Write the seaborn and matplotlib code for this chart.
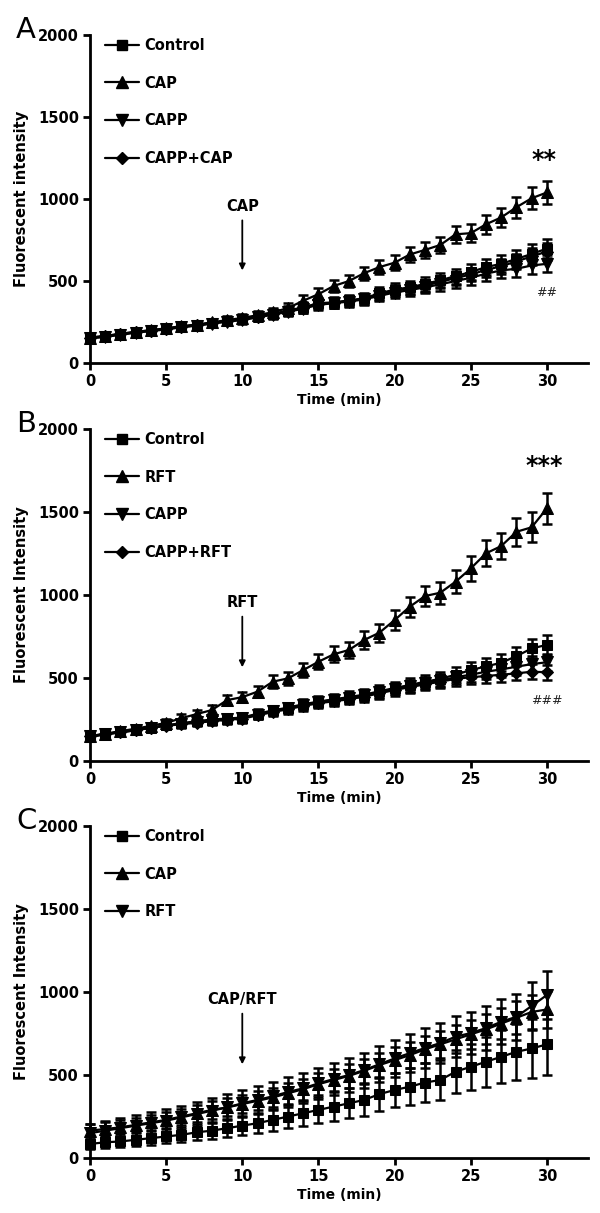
import numpy as np
import pandas as pd
import matplotlib
matplotlib.use("Agg")
import matplotlib.pyplot as plt
from matplotlib.lines import Line2D
import seaborn as sns

# ---- data (mean +/- SEM) ----
time_min = list(range(31))

# Panel A
a_control = [155, 165, 178, 190, 200, 210, 222, 232, 245, 258, 270, 285, 300, 320, 340, 365,
             370, 382, 395, 425, 448, 462, 482, 505, 530, 555, 585, 605, 635, 665, 698]
a_cap = [155, 165, 178, 190, 200, 212, 225, 235, 248, 262, 275, 292, 310, 335, 380, 420,
         470, 500, 548, 585, 612, 662, 690, 720, 785, 792, 846, 888, 950, 1005, 1040]
a_capp = [150, 160, 172, 185, 195, 205, 218, 228, 240, 252, 262, 278, 295, 312, 332, 355,
          365, 375, 388, 410, 430, 445, 462, 480, 500, 520, 545, 565, 575, 595, 605]
a_capp_cap = [152, 162, 175, 188, 198, 208, 220, 230, 243, 255, 268, 282, 298, 316, 336, 360,
              368, 378, 392, 418, 440, 455, 472, 495, 518, 540, 568, 590, 620, 650, 680]
a_control_sem = [18, 18, 19, 20, 20, 21, 22, 22, 23, 24, 25, 26, 27, 28, 30, 32,
                 32, 34, 35, 36, 38, 40, 40, 42, 45, 48, 50, 52, 55, 58, 60]
a_cap_sem = [18, 18, 19, 20, 20, 21, 22, 22, 23, 24, 25, 26, 28, 30, 32, 35,
             36, 38, 40, 42, 44, 46, 48, 50, 52, 55, 58, 60, 64, 68, 70]
a_capp_sem = [16, 16, 17, 18, 18, 19, 20, 20, 21, 22, 23, 24, 25, 26, 28, 30,
              30, 31, 32, 33, 34, 35, 36, 38, 40, 42, 44, 46, 48, 50, 52]
a_capp_cap_sem = [16, 16, 17, 18, 18, 19, 20, 20, 21, 22, 23, 24, 25, 26, 28, 30,
                  30, 31, 32, 33, 34, 35, 36, 38, 40, 42, 44, 46, 48, 50, 52]

# Panel B
b_control = [145, 160, 172, 185, 200, 215, 228, 240, 250, 256, 262, 285, 305, 322, 342, 358,
             372, 385, 400, 420, 440, 458, 478, 495, 520, 548, 570, 592, 632, 678, 700]
b_rft = [150, 165, 180, 195, 212, 230, 258, 283, 307, 367, 385, 418, 478, 498, 548, 598,
         643, 669, 729, 773, 849, 930, 994, 1014, 1080, 1160, 1251, 1295, 1381, 1408, 1522]
b_capp = [148, 162, 175, 188, 202, 215, 225, 235, 245, 252, 260, 280, 300, 318, 338, 355,
          368, 380, 395, 415, 435, 452, 470, 485, 505, 520, 538, 552, 568, 584, 595]
b_capp_rft = [150, 163, 174, 186, 200, 212, 222, 230, 240, 248, 255, 275, 295, 312, 332, 348,
              360, 372, 388, 408, 428, 445, 462, 478, 495, 505, 512, 520, 528, 538, 535]
b_control_sem = [18, 18, 19, 20, 20, 21, 22, 22, 23, 24, 25, 26, 27, 28, 30, 32,
                 32, 34, 35, 36, 38, 40, 40, 42, 45, 48, 50, 52, 55, 58, 60]
b_rft_sem = [18, 18, 19, 20, 20, 22, 24, 26, 28, 30, 32, 34, 38, 40, 42, 45,
             48, 50, 52, 55, 58, 60, 62, 65, 70, 75, 78, 80, 85, 90, 95]
b_capp_sem = [16, 16, 17, 18, 18, 19, 20, 20, 21, 22, 23, 24, 25, 26, 28, 30,
              30, 31, 32, 33, 34, 35, 36, 38, 40, 42, 44, 46, 48, 50, 52]
b_capp_rft_sem = [16, 16, 17, 18, 18, 19, 20, 20, 21, 22, 23, 24, 25, 26, 28, 30,
                  30, 31, 32, 33, 34, 35, 36, 38, 40, 40, 40, 42, 42, 44, 44]

# Panel C
c_control = [85, 95, 100, 110, 120, 130, 140, 155, 165, 180, 195, 210, 230, 250, 270, 290,
             310, 330, 350, 385, 410, 430, 455, 470, 520, 550, 580, 610, 640, 660, 685]
c_cap = [165, 175, 185, 200, 215, 230, 250, 270, 290, 305, 325, 345, 365, 390, 415, 445,
         470, 495, 525, 560, 590, 620, 655, 685, 715, 745, 775, 810, 845, 880, 895]
c_rft = [150, 165, 180, 195, 210, 225, 245, 265, 285, 305, 330, 350, 372, 398, 420, 450,
         476, 500, 530, 565, 600, 632, 663, 693, 731, 753, 783, 821, 851, 916, 982]
c_control_sem = [30, 32, 35, 38, 40, 42, 45, 48, 50, 55, 58, 62, 65, 70, 75, 80,
                 85, 90, 95, 100, 105, 110, 115, 120, 130, 140, 150, 160, 170, 178, 185]
c_cap_sem = [40, 40, 42, 44, 45, 46, 48, 50, 52, 54, 56, 58, 60, 62, 64, 66,
             68, 70, 72, 74, 76, 78, 80, 82, 85, 88, 90, 95, 100, 105, 110]
c_rft_sem = [55, 58, 60, 62, 65, 68, 70, 72, 75, 78, 80, 82, 85, 88, 90, 95,
             98, 100, 105, 108, 112, 115, 118, 122, 125, 128, 132, 135, 138, 142, 145]

y_ticks = [0, 500, 1000, 1500, 2000]
x_ticks = [0, 5, 10, 15, 20, 25, 30]

panels = [
    dict(letter="A", ylabel="Fluorescent intensity", treat="CAP",
         groups=["Control", "CAP", "CAPP", "CAPP+CAP"],
         means=[a_control, a_cap, a_capp, a_capp_cap],
         sems=[a_control_sem, a_cap_sem, a_capp_sem, a_capp_cap_sem],
         stars="**", hashes="##", star_y=1240, hash_y=430),
    dict(letter="B", ylabel="Fluorescent Intensity", treat="RFT",
         groups=["Control", "RFT", "CAPP", "CAPP+RFT"],
         means=[b_control, b_rft, b_capp, b_capp_rft],
         sems=[b_control_sem, b_rft_sem, b_capp_sem, b_capp_rft_sem],
         stars="***", hashes="###", star_y=1780, hash_y=365),
    dict(letter="C", ylabel="Fluorescent Intensity", treat="CAP/RFT",
         groups=["Control", "CAP", "RFT"],
         means=[c_control, c_cap, c_rft],
         sems=[c_control_sem, c_cap_sem, c_rft_sem],
         stars=None, hashes=None),
]
marker_list = ["s", "^", "v", "D"]
marker_size = {"s": 7, "^": 8.5, "v": 8.5, "D": 6.5}

sns.set_style("ticks")
plt.rcParams["font.family"] = ["DejaVu Sans"]
plt.rcParams["font.weight"] = "bold"
for key in ["text.color", "axes.labelcolor", "xtick.color", "ytick.color", "axes.edgecolor"]:
    plt.rcParams[key] = "black"

fig = plt.figure(figsize=(6, 12.13), dpi=100)
positions = [[0.15, 0.7007, 0.83, 0.2704],
             [0.15, 0.3726, 0.83, 0.2737],
             [0.15, 0.0453, 0.83, 0.2737]]
letter_y = [1 - 38 / 1213, 1 - 432 / 1213, 1 - 829 / 1213]

for p, pos, ly in zip(panels, positions, letter_y):
    ax = fig.add_axes(pos)
    rows = []
    for g, vals in zip(p["groups"], p["means"]):
        for t, v in zip(time_min, vals):
            rows.append({"time": t, "intensity": v, "group": g})
    df = pd.DataFrame(rows)
    mk = {g: m for g, m in zip(p["groups"], marker_list)}

    # error bars first, then lines + markers on top
    for g, vals, sem in zip(p["groups"], p["means"], p["sems"]):
        ax.errorbar(time_min, vals, yerr=sem, fmt="none", ecolor="black",
                    elinewidth=1.8, capsize=3.5, capthick=1.8, clip_on=False)
    for g in p["groups"]:
        d = df[df["group"] == g]
        sns.lineplot(data=d, x="time", y="intensity", color="black", marker=mk[g],
                     markersize=marker_size[mk[g]], markeredgecolor="black",
                     linewidth=1.6, errorbar=None, ax=ax, legend=False)
    for ln in ax.lines:
        ln.set_clip_on(False)

    ax.set_xlim(0, 32.7)
    ax.set_ylim(0, 2000)
    ax.set_xticks(x_ticks)
    ax.set_yticks(y_ticks)
    sns.despine(ax=ax)
    for s in ["left", "bottom"]:
        ax.spines[s].set_linewidth(2)
        ax.spines[s].set_color("black")
    ax.tick_params(axis="both", length=5, width=2, pad=3, labelsize=10.5,
                   color="black", labelcolor="black")
    for lab in ax.get_xticklabels() + ax.get_yticklabels():
        lab.set_fontweight("bold")
    ax.set_xlabel("Time (min)", fontsize=10, fontweight="bold", labelpad=3)
    ax.set_ylabel(p["ylabel"], fontsize=10.5, fontweight="bold")
    ax.yaxis.set_label_coords(-0.122, 0.5)

    # treatment arrow
    ax.annotate("", xy=(10, 565), xytext=(10, 870),
                arrowprops=dict(arrowstyle="-|>", color="black", lw=1.3,
                                mutation_scale=9, shrinkA=0, shrinkB=0))
    ax.text(10, 955, p["treat"], ha="center", va="center", fontsize=10.5,
            fontweight="bold")

    if p["stars"]:
        ax.text(29.8, p["star_y"], p["stars"], ha="center", va="center",
                fontsize=17, fontweight="bold")
        ax.text(30.0, p["hash_y"], p["hashes"], ha="center", va="center",
                fontsize=9, fontweight="normal", style="italic", color="#222222")

    handles = [Line2D([], [], color="black", lw=1.6, marker=mk[g],
                      markersize=marker_size[mk[g]]) for g in p["groups"]]
    leg = ax.legend(handles, p["groups"], loc="upper left",
                    bbox_to_anchor=(0.025, 1.0), frameon=False, fontsize=10.5,
                    labelspacing=1.55, handlelength=2.3, handletextpad=0.4,
                    borderaxespad=0, borderpad=0.2)
    for txt in leg.get_texts():
        txt.set_fontweight("bold")

    fig.text(16 / 600, ly, p["letter"], fontsize=21, fontweight="normal",
             ha="left", va="baseline")

fig.savefig("out.png", dpi=100)
